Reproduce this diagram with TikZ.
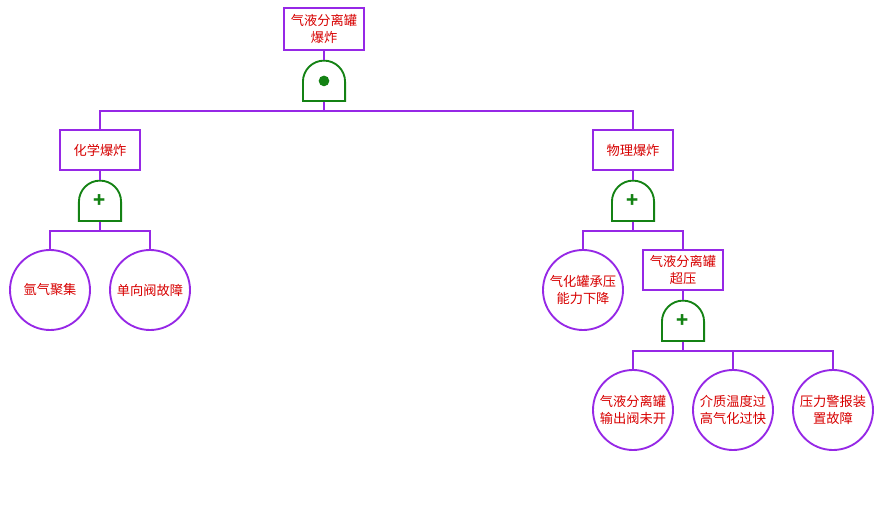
\documentclass[tikz,border=0pt]{standalone}
\usepackage{fontspec}
\setmainfont{Noto Sans CJK SC}
\usepackage{tikz}
\usetikzlibrary{positioning, calc}
\definecolor{FTpurple}{RGB}{150, 40, 230}
\definecolor{FTgreen}{RGB}{20, 130, 20}
\definecolor{FTred}{RGB}{215, 0, 0}
% gate outline, drawn inside the gate node
\newcommand{\gateoutline}{%
  \draw[FTgreen, line width=1.6pt]
    ([xshift=0.8pt,yshift=0.8pt]path picture bounding box.south west)
    -- ++(0,0.58cm) arc[start angle=180, end angle=0, radius=0.632cm]
    -- ++(0,-0.58cm) -- cycle;}

\begin{document}
\begin{tikzpicture}[x=0.03cm, y=-0.03cm,
                event/.style={rectangle,
                draw=FTpurple,
                line width=1.6pt,
                fill=white,
                text=FTred,
                minimum width=2.4cm,
                minimum height=1.2cm,
                inner sep=2pt,
                font=\fontsize{11.3}{13.8}\selectfont,
                align=center},
                basic/.style={circle,
                draw=FTpurple,
                line width=1.6pt,
                text=FTred,
                minimum size=2.4cm,
                inner sep=0pt,
                font=\fontsize{11.3}{13.8}\selectfont,
                align=center},
                gate/.style={rectangle,
                minimum width=1.32cm,
                minimum height=1.26cm,
                inner sep=0pt, outer sep=0pt,
                text=FTgreen},
                orgate/.style={gate,
                font=\fontsize{17}{17}\selectfont\bfseries,
                path picture={\gateoutline}},
                andgate/.style={gate,
                path picture={\gateoutline
                  \fill[FTgreen] (path picture bounding box.center) circle[radius=0.16cm];}},
                link/.style={FTpurple, line width=1.6pt},
                node distance=0.27cm]
                \useasboundingbox (0,0) rectangle (883,510);
                \node[event, minimum height=1.26cm] (top) at (324,29)
                    {气液分离罐\\爆炸};
                \node[andgate, below=of top] (g0) {};
                \node[event] (chem) at (100,150) {化学爆炸};
                \node[event] (phys) at (633,150) {物理爆炸};
                \node[orgate, below=0.27cm of chem] (g1) {+};
                \node[orgate, below=0.27cm of phys] (g2) {+};
                \node[basic] (ar) at (50,290) {氩气聚集};
                \node[basic] (cv) at (150,290) {单向阀故障};
                \node[basic] (cap) at (583,290) {气化罐承压\\能力下降};
                \node[event] (ovp) at (683,270) {气液分离罐\\超压};
                \node[orgate, below=0.27cm of ovp] (g3) {+};
                \node[basic] (valve) at (633,410) {气液分离罐\\输出阀未开};
                \node[basic] (temp) at (733,410) {介质温度过\\高气化过快};
                \node[basic] (alarm) at (833,410) {压力警报装\\置故障};
                \draw[link] (top)--(g0);
                \draw[link] (g0.south)--++(0,-0.27cm)-|(chem.north);
                \draw[link] (g0.south)--++(0,-0.27cm)-|(phys.north);
                \draw[link] (chem)--(g1);
                \draw[link] (phys)--(g2);
                \draw[link] (g1.south)--++(0,-0.27cm)-|(ar.north);
                \draw[link] (g1.south)--++(0,-0.27cm)-|(cv.north);
                \draw[link] (g2.south)--++(0,-0.27cm)-|(cap.north);
                \draw[link] (g2.south)--++(0,-0.27cm)-|(ovp.north);
                \draw[link] (ovp)--(g3);
                \draw[link] (g3.south)--++(0,-0.27cm)-|(valve.north);
                \draw[link] (g3.south)--++(0,-0.27cm)-|(temp.north);
                \draw[link] (g3.south)--++(0,-0.27cm)-|(alarm.north);
            \end{tikzpicture}
\end{document}
